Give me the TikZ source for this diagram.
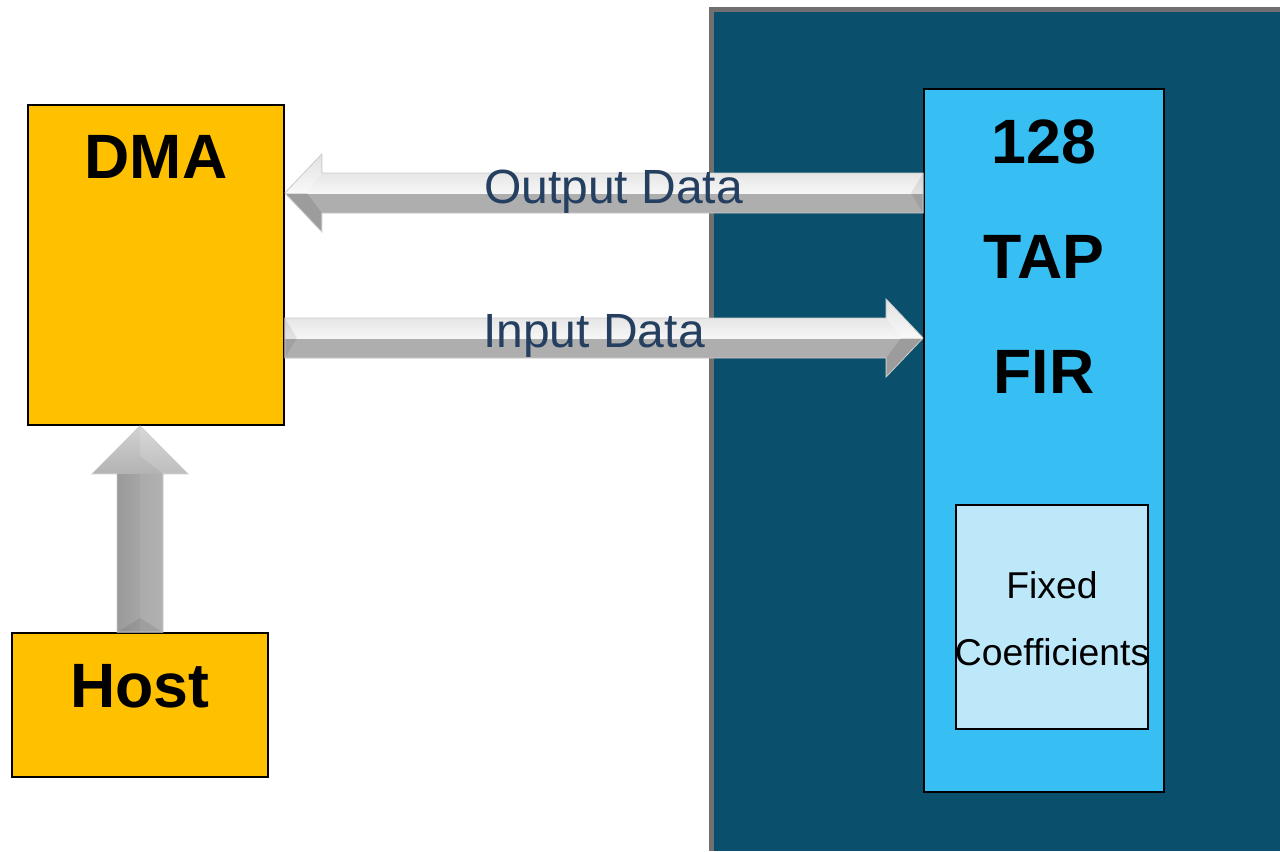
\documentclass[tikz,border=0pt]{standalone}
\usepackage{fontspec}
\setmainfont{Liberation Sans}
\usetikzlibrary{calc}

\definecolor{panelblue}{HTML}{0A4F6B}
\definecolor{panelrim}{HTML}{707070}
\definecolor{firblue}{HTML}{37BEF2}
\definecolor{coefblue}{HTML}{BDE8FA}
\definecolor{hostgold}{HTML}{FFC000}
\definecolor{labelblue}{HTML}{243F60}
\definecolor{beamlight}{HTML}{F6F6F6}
\definecolor{beamtop}{HTML}{D6D6D6}
\definecolor{beamdark}{HTML}{AEAEAE}

\tikzset{
  block/.style={draw=black, line width=1.3pt, inner sep=0pt},
  bigbold/.style={font=\fontsize{47}{50}\selectfont\bfseries, anchor=base, inner sep=0pt},
  beamlabel/.style={font=\fontsize{36}{39}\selectfont, text=labelblue, anchor=base, inner sep=0pt},
  coeflabel/.style={font=\fontsize{28}{31}\selectfont, anchor=base, inner sep=0pt},
  beamedge/.style={draw=black!20, line width=0.6pt},
}

\begin{document}
\begin{tikzpicture}[x=0.75pt, y=-0.75pt]
\useasboundingbox (0,0) rectangle (1280,851);
\fill[white] (0,0) rectangle (1280,851);

% hardware panel with its grey rim
\fill[panelrim] (709,7) rectangle (1280,851);
\fill[panelblue] (714,12) rectangle (1280,851);

% blocks
\node[block, fill=hostgold, minimum width=192pt, minimum height=240pt] (dma) at (156,265) {};
\node[block, fill=hostgold, minimum width=192pt, minimum height=108pt] (host) at (140,705) {};
\node[block, fill=firblue, minimum width=180pt, minimum height=527.25pt] (fir) at (1044,440.5) {};
\node[block, fill=coefblue, minimum width=144pt, minimum height=168pt] (coef) at (1052,617) {};

% block titles
\node[bigbold] (dmatitle) at (156,178) {DMA};
\node[bigbold] (hosttitle) at (140,707) {Host};
\node[bigbold] (firA) at (1044,163) {128};
\node[bigbold] (firB) at (1044,278) {TAP};
\node[bigbold] (firC) at (1044,393) {FIR};
\node[coeflabel] (coefA) at (1052,598) {Fixed};
\node[coeflabel] (coefB) at (1052,665) {Coefficients};

% arrow end points
\coordinate (oTail) at (fir.west |- 0,193);
\coordinate (oTip)  at (dma.east |- 0,193);
\coordinate (iTail) at (dma.east |- 0,338);
\coordinate (iTip)  at (fir.west |- 0,338);
\coordinate (uTail) at (host.north);
\coordinate (uTip)  at (host.north |- dma.south);

% output data: FIR -> DMA
\def\outbeam{($(oTail)+(0,-20)$) -- ($(oTip)+(37,-20)$) -- ($(oTip)+(37,-39)$) -- (oTip)
  -- ($(oTip)+(37,39)$) -- ($(oTip)+(37,20)$) -- ($(oTail)+(0,20)$) -- cycle}
\foreach \k in {3,6,9}{\fill[black, opacity=0.06, shift={(0,\k)}] \outbeam;}
\begin{scope}
  \clip \outbeam;
  \fill[beamdark] ($(oTip)+(0,-40)$) rectangle ($(oTail)+(0,40)$);
  \shade[top color=beamtop, bottom color=beamlight] ($(oTip)+(0,-40)$) rectangle ($(oTail)+(0,0)$);
  % bevel facets of the head
  \fill[black, opacity=0.10] (oTip) -- ($(oTip)+(37,39)$) -- ($(oTip)+(37,20)$) -- ($(oTip)+(22,0)$) -- cycle;
  \fill[white, opacity=0.30] (oTip) -- ($(oTip)+(37,-39)$) -- ($(oTip)+(37,-20)$) -- ($(oTip)+(22,0)$) -- cycle;
  % bevel facet at the square end
  \fill[black, opacity=0.08] ($(oTail)+(0,-20)$) -- ($(oTail)+(-12,0)$) -- ($(oTail)+(0,20)$) -- cycle;
\end{scope}
\draw[beamedge] \outbeam;

% input data: DMA -> FIR
\def\inbeam{($(iTail)+(0,-20)$) -- ($(iTip)+(-37,-20)$) -- ($(iTip)+(-37,-39)$) -- (iTip)
  -- ($(iTip)+(-37,39)$) -- ($(iTip)+(-37,20)$) -- ($(iTail)+(0,20)$) -- cycle}
\foreach \k in {3,6,9}{\fill[black, opacity=0.06, shift={(0,\k)}] \inbeam;}
\begin{scope}
  \clip \inbeam;
  \fill[beamdark] ($(iTail)+(0,-40)$) rectangle ($(iTip)+(0,40)$);
  \shade[top color=beamtop, bottom color=beamlight] ($(iTail)+(0,-40)$) rectangle ($(iTip)+(0,0)$);
  \fill[black, opacity=0.10] (iTip) -- ($(iTip)+(-37,39)$) -- ($(iTip)+(-37,20)$) -- ($(iTip)+(-22,0)$) -- cycle;
  \fill[white, opacity=0.30] (iTip) -- ($(iTip)+(-37,-39)$) -- ($(iTip)+(-37,-20)$) -- ($(iTip)+(-22,0)$) -- cycle;
  \fill[black, opacity=0.08] ($(iTail)+(0,-20)$) -- ($(iTail)+(12,0)$) -- ($(iTail)+(0,20)$) -- cycle;
\end{scope}
\draw[beamedge] \inbeam;

% host -> DMA
\def\upbeam{($(uTail)+(-23,0)$) -- ($(uTip)+(-23,48)$) -- ($(uTip)+(-48,48)$) -- (uTip)
  -- ($(uTip)+(48,48)$) -- ($(uTip)+(23,48)$) -- ($(uTail)+(23,0)$) -- cycle}
\foreach \k in {3,6}{\fill[black, opacity=0.06, shift={(\k,\k)}] \upbeam;}
\begin{scope}
  \clip \upbeam;
  \shade[left color=black!45, right color=black!35] ($(uTip)+(-49,0)$) rectangle ($(uTail)+(0,0)$);
  \shade[left color=black!33, right color=black!28] ($(uTip)+(0,0)$) rectangle ($(uTail)+(49,0)$);
  \shade[top color=black!18, bottom color=black!30] ($(uTip)+(-49,0)$) -- ($(uTip)+(49,0)$) -- ($(uTip)+(49,48)$) -- ($(uTip)+(-49,48)$) -- cycle;
  \fill[white, opacity=0.15] (uTip) -- ($(uTip)+(48,48)$) -- ($(uTip)+(23,48)$) -- ($(uTip)+(0,30)$) -- cycle;
  \fill[black, opacity=0.08] ($(uTail)+(-23,0)$) -- ($(uTail)+(0,-14)$) -- ($(uTail)+(23,0)$) -- cycle;
\end{scope}
\draw[beamedge] \upbeam;

% arrow labels
\node[beamlabel] (outlabel) at (613.5,203) {Output Data};
\node[beamlabel] (inlabel) at (594,347) {Input Data};
\end{tikzpicture}
\end{document}
